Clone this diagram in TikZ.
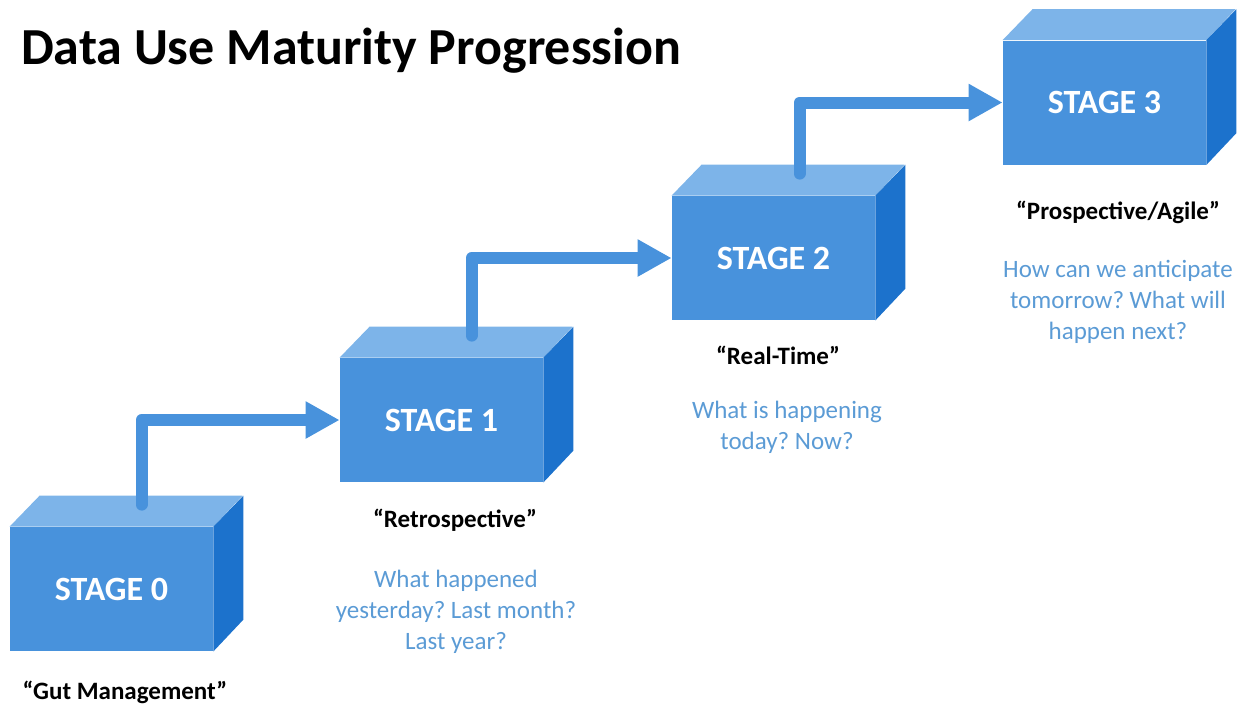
\documentclass[tikz,border=0pt]{standalone}
\usepackage{fontspec}
\setmainfont{Carlito}
\usepackage{tikz}
\usetikzlibrary{arrows.meta, positioning}
\frenchspacing
\definecolor{face}{RGB}{72,146,220}
\definecolor{lid}{RGB}{125,180,233}
\definecolor{side}{RGB}{28,114,204}
\definecolor{ask}{RGB}{91,155,213}
\tikzstyle{box} = [rectangle, minimum width = 101.5pt, minimum height = 62pt,
  fill = face, inner sep = 0, text = white,
  font = \fontsize{17}{20}\selectfont\bfseries]
\tikzstyle{quote} = [font = \fontsize{12.5}{15}\selectfont\bfseries]
\tikzstyle{question} = [
  text = ask, align = center,
  font = \fontsize{12.5}{15.5}\selectfont
]
\tikzstyle{flow} = [
  draw = face, line width = 6pt, line cap = round, line join = round,
  -{Triangle[width = 17.5pt, length = 17pt]}
]

\begin{document}
\begin{tikzpicture}[x = 0.5pt, y = -0.5pt, node distance = 0]
      \useasboundingbox (0, 0) rectangle (1241, 708);
      \node [anchor = west, font = \fontsize{26}{30}\selectfont\bfseries]
      (title) at (14, 51) {Data Use Maturity Progression};
      % stage 0
      \node [box] (box-0) at (111.5, 589) {STAGE 0};
      % stage 1
      \node [box, right of = box-0, xshift = 165pt, yshift = 84.5pt] (box-1)
      {STAGE 1};
      % stage 2
      \node [box, right of = box-1, xshift = 166pt, yshift = 81pt] (box-2)
      {STAGE 2};
      % stage 3
      \node [box, right of = box-2, xshift = 165.5pt, yshift = 77.75pt] (box-3)
      {STAGE 3};

      % lids and sides
      \fill [lid] (box-0.north west) -- ++(30, -31) -- ++(203, 0) --
      (box-0.north east) -- cycle;
      \fill [side] (box-0.north east) -- ++(30, -31) -- ++(0, 124) --
      (box-0.south east) -- cycle;
      \fill [lid] (box-1.north west) -- ++(30, -31) -- ++(203, 0) --
      (box-1.north east) -- cycle;
      \fill [side] (box-1.north east) -- ++(30, -31) -- ++(0, 124) --
      (box-1.south east) -- cycle;
      \fill [lid] (box-2.north west) -- ++(30, -31) -- ++(203, 0) --
      (box-2.north east) -- cycle;
      \fill [side] (box-2.north east) -- ++(30, -31) -- ++(0, 124) --
      (box-2.south east) -- cycle;
      \fill [lid] (box-3.north west) -- ++(30, -31) -- ++(203, 0) --
      (box-3.north east) -- cycle;
      \fill [side] (box-3.north east) -- ++(30, -31) -- ++(0, 124) --
      (box-3.south east) -- cycle;

      % labels
      \node [quote] (name-0) at (125, 692) {“Gut Management”};
      \node [quote] (name-1) at (455, 520) {“Retrospective”};
      \node [quote] (name-2) at (778, 355) {“Real-Time”};
      \node [quote] (name-3) at (1118, 212) {“Prospective/Agile”};
      \node [question] (ask-1) at (456, 612)
      {What happened\\yesterday? Last month?\\Last year?};
      \node [question] (ask-2) at (787, 427.5)
      {What is happening\\today? Now?};
      \node [question] (ask-3) at (1118, 302)
      {How can we anticipate\\tomorrow? What will\\happen next?};

      \coordinate (up-0) at ([xshift = 15pt, yshift = 11pt]box-0.north);
      \coordinate (up-1) at ([xshift = 15pt, yshift = 11pt]box-1.north);
      \coordinate (up-2) at ([xshift = 13pt, yshift = 11pt]box-2.north);
      \draw [flow] (up-0) |- (box-1.west);
      \draw [flow] (up-1) |- (box-2.west);
      \draw [flow] (up-2) |- (box-3.west);
    \end{tikzpicture}
\end{document}
